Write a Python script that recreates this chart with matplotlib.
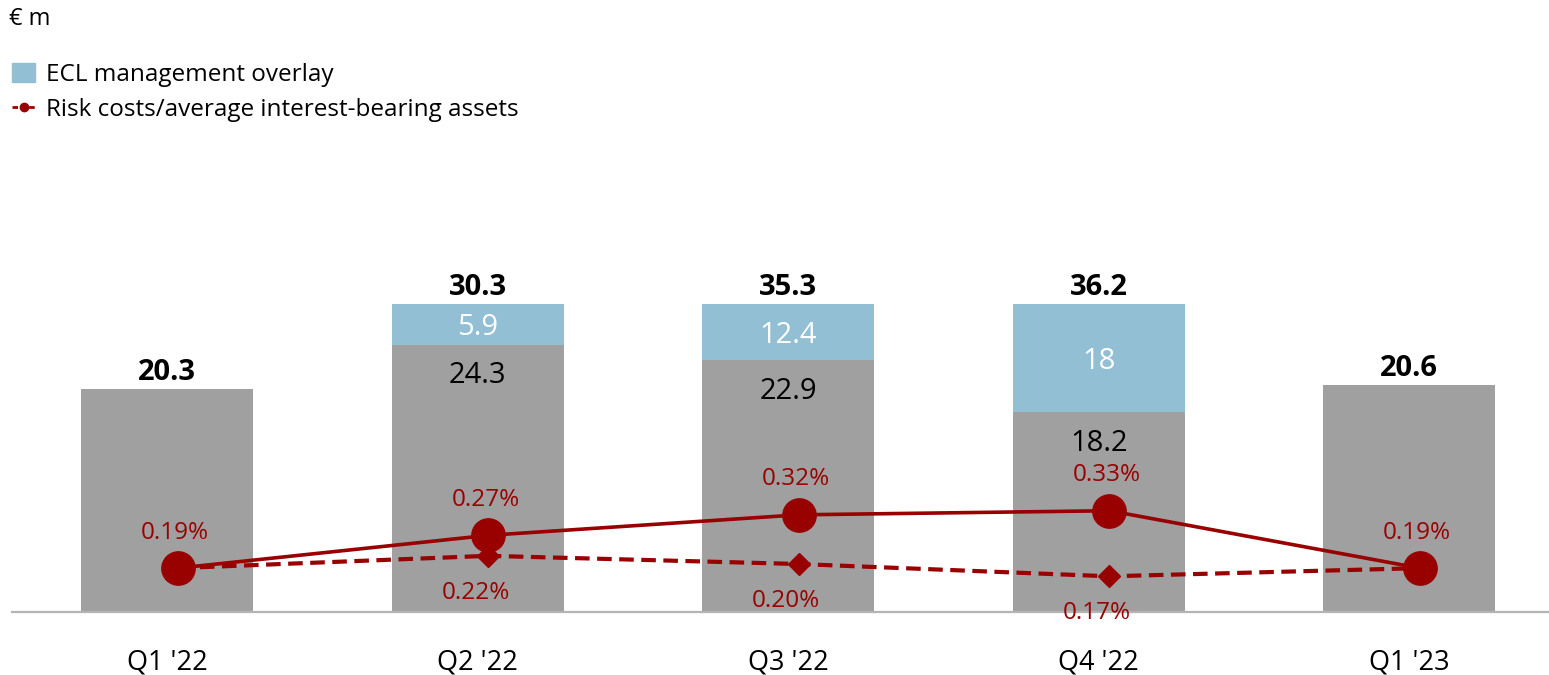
import numpy as np
import matplotlib.pyplot as plt
from matplotlib.patches import Patch
from matplotlib.lines import Line2D

plt.rcParams['font.family'] = ['Open Sans', 'DejaVu Sans']

# data
quarters = ["Q1 '22", "Q2 '22", "Q3 '22", "Q4 '22", "Q1 '23"]
risk_ex_overlay = [20.3, 24.3, 22.9, 18.2, 20.6]
ecl_overlay = [0, 5.9, 12.4, 18, 0]
totals = [20.3, 30.3, 35.3, 36.2, 20.6]
ratio_total = [0.19, 0.27, 0.32, 0.33, 0.19]
ratio_ex_overlay = [0.19, 0.22, 0.20, 0.17, 0.19]

# colours
grey = "#a0a0a0"
blue = "#92bfd3"
red = "#990000"

# bars are drawn capped at this height in the original slide
cap = 28.0

fig = plt.figure(figsize=(15.49, 6.75), dpi=100)
ax = fig.add_axes([0.00775, 0.0933, 0.99225, 0.6844])

x = np.arange(len(quarters))
grey_v = np.array(risk_ex_overlay)
blue_v = np.minimum(np.array(totals), cap) - grey_v
blue_v[np.array(ecl_overlay) == 0] = 0

w = 0.555
ax.bar(x, grey_v, width=w, color=grey, zorder=1)
ax.bar(x, blue_v, width=w, bottom=grey_v, color=blue, zorder=1)

for i in range(len(x)):
    top = grey_v[i] + blue_v[i]
    ax.annotate(f"{totals[i]:.1f}", (x[i], top), xytext=(0, 1.5), textcoords="offset points",
                ha="center", va="bottom", fontsize=21, fontweight="bold")
    if ecl_overlay[i]:
        ax.annotate(f"{risk_ex_overlay[i]:.1f}", (x[i], grey_v[i]), xytext=(0, -12),
                    textcoords="offset points", ha="center", va="top", fontsize=21)
        ax.annotate(f"{ecl_overlay[i]:g}", (x[i], grey_v[i] + blue_v[i] / 2), xytext=(0, -2.5),
                    textcoords="offset points", ha="center", va="center", fontsize=21,
                    color="white")

ax.set_xlim(-0.5, 4.45)
ax.set_ylim(0, 42)
ax.set_xticks(x)
ax.set_xticklabels(quarters, fontsize=19.5)
ax.tick_params(axis="x", length=0, pad=26)
ax.set_yticks([])
for s in ["top", "right", "left"]:
    ax.spines[s].set_visible(False)
ax.spines["bottom"].set_color("#b4b4b4")
ax.spines["bottom"].set_linewidth(1.6)

# ratio lines on a second scale (zero sits below the bar baseline)
ax2 = ax.twinx()
ax2.set_ylim(0.0829, 1.2098)
ax2.axis("off")
lx = x + 0.034
ax2.plot(lx, ratio_ex_overlay, color=red, lw=3, ls=(0, (3.5, 1.8)), marker="D", ms=11,
         markevery=[1, 2, 3], zorder=2)
ax2.plot(lx, ratio_total, color=red, lw=2.6, marker="o", ms=24, zorder=3)

for i in range(len(x)):
    ax2.annotate(f"{ratio_total[i]:.2f}%", (lx[i], ratio_total[i]), xytext=(-2, 17),
                 textcoords="offset points", ha="center", va="bottom", fontsize=17.5, color=red)
    if 0 < i < len(x) - 1:
        ax2.annotate(f"{ratio_ex_overlay[i]:.2f}%", (lx[i], ratio_ex_overlay[i]), xytext=(-9, -18),
                     textcoords="offset points", ha="center", va="top", fontsize=17.5, color=red)

# unit and legend
fig.text(0.006, 0.972, "€ m", fontsize=17, va="center")
handles = [Patch(color=blue),
           Line2D([], [], color=red, lw=2, ls=(0, (2, 1)), marker="o", ms=6)]
fig.legend(handles, ["ECL management overlay", "Risk costs/average interest-bearing assets"],
           loc="upper left", bbox_to_anchor=(0.0, 0.925), frameon=False, fontsize=17.5,
           handlelength=0.95, handleheight=0.85, handletextpad=0.45, labelspacing=0.45,
           borderaxespad=0.3, borderpad=0.2)

fig.savefig("out.png", dpi=100)
